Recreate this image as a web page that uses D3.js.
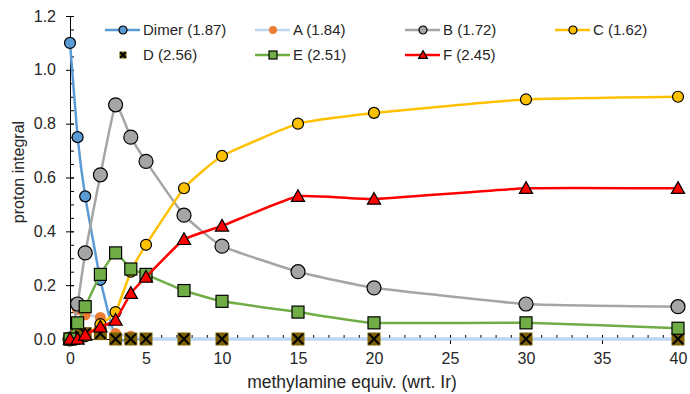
<!DOCTYPE html>
<html lang="en">
  <head>
    <meta charset="utf-8" />
    <title>Proton integral vs methylamine</title>
    <script src="https://d3js.org/d3.v7.min.js"></script>
    <style>
      body { margin: 0; background: white; }
      text { font-family: "Liberation Sans", Arial, sans-serif; fill: #262626; }
    </style>
  </head>
  <body>
    <div id="chart"></div>
    <script>
      // data
      var equiv = [0, 0.5, 1, 2, 3, 4, 5, 7.5, 10, 15, 20, 30, 40];
      var dimer = [1.1, 0.75, 0.53, 0.22, 0, 0, 0, 0, 0, 0, 0, 0, 0];
      var seriesA = [0, 0.11, 0.09, 0.08, 0.02, 0.01, 0, 0, 0, 0, 0, 0, 0];
      var seriesB = [0, 0.13, 0.32, 0.61, 0.87, 0.75, 0.66, 0.46, 0.345, 0.25, 0.19, 0.13, 0.12];
      var seriesC = [0, 0, 0.01, 0.055, 0.1, 0.25, 0.35, 0.56, 0.68, 0.8, 0.84, 0.89, 0.9];
      var seriesD = [0, 0.02, 0.02, 0.02, 0, 0, 0, 0, 0, 0, 0, 0, 0];
      var seriesE = [0, 0.06, 0.12, 0.24, 0.32, 0.26, 0.24, 0.18, 0.14, 0.1, 0.06, 0.06, 0.04];
      var seriesF = [0, 0, 0.015, 0.045, 0.07, 0.17, 0.23, 0.37, 0.42, 0.53, 0.52, 0.56, 0.56];
      var legendNames = ["Dimer (1.87)", "A (1.84)", "B (1.72)", "C (1.62)", "D (2.56)", "E (2.51)", "F (2.45)"];
      var xTicks = [0, 5, 10, 15, 20, 25, 30, 35, 40];
      var yTicks = [0, 0.2, 0.4, 0.6, 0.8, 1.0, 1.2];

      var width = 690;
      var height = 394;

      var svg = d3
        .select("#chart")
        .append("svg")
        .attr("width", width)
        .attr("height", height);

      var x = d3.scaleLinear().domain([0, 40]).range([70, 678]);
      var y = d3.scaleLinear().domain([0, 1.2]).range([339, 16]);

      // y axis: crossing major ticks, inside minor ticks
      var yAxis = svg
        .append("g")
        .attr("transform", "translate(70,0)")
        .call(d3.axisLeft(y).tickValues(yTicks).tickSize(4).tickPadding(10).tickFormat(d3.format(".1f")));
      yAxis.select(".domain").attr("stroke", "#000");
      yAxis.selectAll(".tick line").attr("x1", 4).attr("stroke", "#000");
      yAxis.selectAll("text").style("font-size", "16px");

      svg
        .append("g")
        .attr("transform", "translate(70,0)")
        .call(d3.axisRight(y).tickValues(d3.range(0, 1.201, 0.05)).tickSize(4).tickFormat(""))
        .call(function (g) {
          g.select(".domain").remove();
          g.selectAll("line").attr("stroke", "#000");
        });

      // x axis
      var xAxis = svg
        .append("g")
        .attr("transform", "translate(0,339)")
        .call(d3.axisBottom(x).tickValues(xTicks).tickSize(5).tickPadding(9));
      xAxis.select(".domain").attr("stroke", "#000");
      xAxis.selectAll(".tick line").attr("y1", -4).attr("stroke", "#000");
      xAxis.selectAll("text").style("font-size", "16px");

      svg
        .append("g")
        .attr("transform", "translate(0,339)")
        .call(d3.axisTop(x).tickValues(d3.range(0, 41, 1)).tickSize(4).tickFormat(""))
        .call(function (g) {
          g.select(".domain").remove();
          g.selectAll("line").attr("stroke", "#000");
        });

      svg
        .append("text")
        .attr("x", 352)
        .attr("y", 388)
        .attr("text-anchor", "middle")
        .style("font-size", "17.5px")
        .text("methylamine equiv. (wrt. Ir)");

      svg
        .append("text")
        .attr("transform", "translate(24,172) rotate(-90)")
        .attr("text-anchor", "middle")
        .style("font-size", "16px")
        .text("proton integral");

      // marker drawing
      function drawMarker(g, shape, fill, size) {
        var r = size / 2;
        if (shape === "circle") {
          g.append("circle").attr("r", r).attr("fill", fill).attr("stroke", "#000").attr("stroke-width", 1.2);
        } else if (shape === "dot") {
          g.append("circle").attr("r", r).attr("fill", fill);
        } else if (shape === "square") {
          g.append("rect").attr("x", -r).attr("y", -r).attr("width", size).attr("height", size)
            .attr("fill", fill).attr("stroke", "#000").attr("stroke-width", 1.2);
        } else if (shape === "triangle") {
          g.append("path")
            .attr("d", "M0," + (-r * 1.1) + "L" + r * 1.1 + "," + r * 0.85 + "L" + -r * 1.1 + "," + r * 0.85 + "Z")
            .attr("fill", fill).attr("stroke", "#000").attr("stroke-width", 1.2);
        } else if (shape === "cross") {
          g.append("rect").attr("x", -r).attr("y", -r).attr("width", size).attr("height", size).attr("fill", fill);
          g.append("path")
            .attr("d", "M" + -r * 0.8 + "," + -r * 0.8 + "L" + r * 0.8 + "," + r * 0.8 + "M" + r * 0.8 + "," + -r * 0.8 + "L" + -r * 0.8 + "," + r * 0.8)
            .attr("stroke", "#000").attr("stroke-width", 2);
        }
      }

      var series = [
        { name: legendNames[0], values: dimer, line: "#5B9BD5", shape: "circle", fill: "#5B9BD5", size: 11 },
        { name: legendNames[1], values: seriesA, line: "#BDD7EE", shape: "dot", fill: "#ED7D31", size: 11 },
        { name: legendNames[2], values: seriesB, line: "#A5A5A5", shape: "circle", fill: "#A5A5A5", size: 14 },
        { name: legendNames[3], values: seriesC, line: "#FFC000", shape: "circle", fill: "#FFC000", size: 11 },
        { name: legendNames[4], values: seriesD, line: null, shape: "cross", fill: "#7F6000", size: 13 },
        { name: legendNames[5], values: seriesE, line: "#70AD47", shape: "square", fill: "#70AD47", size: 12 },
        { name: legendNames[6], values: seriesF, line: "#FF0000", shape: "triangle", fill: "#FF0000", size: 12 },
      ];

      var line = d3
        .line()
        .curve(d3.curveCardinal.tension(0.6))
        .x(function (d) { return x(d[0]); })
        .y(function (d) { return y(d[1]); });

      series.forEach(function (s) {
        var pts = equiv.map(function (e, i) { return [e, s.values[i]]; });
        if (s.line) {
          svg.append("path").datum(pts).attr("fill", "none").attr("stroke", s.line)
            .attr("stroke-width", 2.5).attr("d", line);
        }
        pts.forEach(function (p) {
          var g = svg.append("g").attr("transform", "translate(" + x(p[0]) + "," + y(p[1]) + ")");
          drawMarker(g, s.shape, s.fill, s.size);
        });
      });

      // legend
      var legendPos = [[105, 30], [255, 30], [405, 30], [555, 30], [105, 55], [255, 55], [405, 55]];
      series.forEach(function (s, i) {
        var lg = svg.append("g").attr("transform", "translate(" + legendPos[i][0] + "," + legendPos[i][1] + ")");
        if (s.line) {
          lg.append("line").attr("x1", 0).attr("x2", 35).attr("stroke", s.line).attr("stroke-width", 2.5);
        }
        var m = lg.append("g").attr("transform", "translate(18,0)");
        drawMarker(m, s.shape, s.fill, s.shape === "cross" ? 7 : 8);
        lg.append("text").attr("x", 38).attr("dy", "0.35em").style("font-size", "15px").text(s.name);
      });
    </script>
  </body>
</html>
